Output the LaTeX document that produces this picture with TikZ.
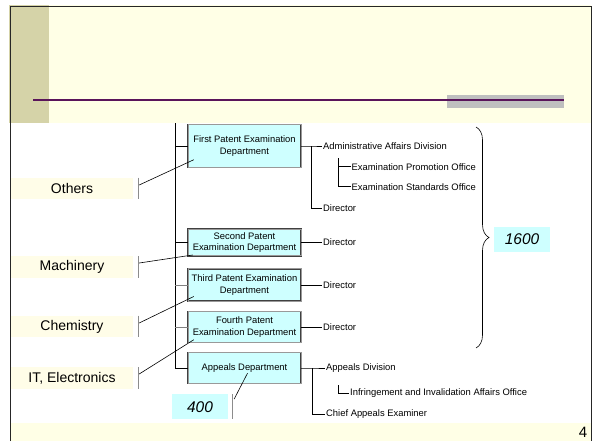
\documentclass[tikz,border=0pt]{standalone}
\usepackage{fontspec}
\setmainfont{Liberation Sans}
\usetikzlibrary{calc,decorations.pathreplacing}
\definecolor{headcream}{RGB}{255,255,230}
\definecolor{headolive}{RGB}{213,211,168}
\definecolor{labcream}{RGB}{255,253,232}
\definecolor{deptcyan}{RGB}{206,255,255}
\definecolor{rulepurple}{RGB}{90,20,90}
\newcommand\deptfont{\fontsize{9.4}{11.5}\selectfont}
\newcommand\fieldfont{\fontsize{14}{16}\selectfont}
\newcommand\countfont{\fontsize{15.5}{17}\selectfont\itshape}
\tikzset{
  dept/.style={draw=black!75, line width=0.45pt, double=black!40, double distance=0.8pt,
    fill=deptcyan, minimum width=113, inner sep=0pt, align=center, font=\deptfont},
  field/.style={fill=labcream, minimum width=122, minimum height=21.5, inner sep=0pt, font=\fieldfont},
  office/.style={anchor=west, inner xsep=1pt, inner ysep=1pt, font=\deptfont},
  count/.style={fill=deptcyan, minimum width=56, minimum height=25, inner sep=0pt, font=\countfont},
  tickbar/.style={draw=black!45, line width=1.3pt},
  link/.style={draw=black, line width=0.6pt},
}
\begin{document}
\begin{tikzpicture}[x=1pt,y=-1pt]
  \useasboundingbox (0,0) rectangle (593,441);
  %%%%% HEADER %%%%%
  \fill[white] (0,0) rectangle (593,441);
  \fill[headcream] (10,5) rectangle (591,122.7);
  \fill[headolive] (9,5) rectangle (49,122.7);
  \fill[black!25] (447,95) rectangle (564,107.7);
  \draw[rulepurple, line width=1.4pt] (33,100) -- (563.5,100);
  \fill[headcream] (10,422.7) rectangle (591,441);
  \draw[black!85, line width=0.8pt] (10,441) -- (10,6) -- (591,6) -- (591,441);

  %%%%% DEPARTMENTS %%%%%
  \coordinate (top) at (175,123);
  \node[dept, minimum height=43] (b1) at (244.5,146) {First Patent Examination\\Department};
  \node[dept, minimum height=26.5] (b2) at (244.5,242.5) {Second Patent\\Examination Department};
  \node[dept, minimum height=32.5] (b3) at (244.5,285) {Third Patent Examination\\Department};
  \node[dept, minimum height=31] (b4) at (244.5,327) {Fourth Patent\\Examination Department};
  \node[dept, minimum height=31] (b5) at (244.5,368) {Appeals Department};

  \draw[link] (top) |- (b5.west);
  \draw[link] (b1.west -| top) -- (b1.west);
  \draw[link] (b2.west -| top) -- (b2.west);
  \draw[link, draw=black!50] (b3.west -| top) -- (b3.west);
  \draw[link, draw=black!50] (b4.west -| top) -- (b4.west);

  %%%%% OFFICES %%%%%
  \node[office] (admin) at (322,146) {Administrative Affairs Division};
  \node[office] (promo) at (350.5,166.7) {Examination Promotion Office};
  \node[office] (stand) at (350.5,186.7) {Examination Standards Office};
  \node[office] (dir1) at (322,208.3) {Director};
  \node[office] (dir2) at (322,242.5) {Director};
  \node[office] (dir3) at (322,285) {Director};
  \node[office] (dir4) at (322,327) {Director};
  \node[office] (appdiv) at (325,368) {Appeals Division};
  \node[office] (infr) at (349,393.3) {Infringement and Invalidation Affairs Office};
  \node[office] (chief) at (325,414.3) {Chief Appeals Examiner};

  \draw[link] (b1.east) -- (b1.east -| 311.7,0) coordinate (j1) -- (admin.west);
  \draw[link] (j1) |- (dir1.west);
  \coordinate (s1) at (338.3,158);
  \draw[link] (s1) |- (promo.west);
  \draw[link] (s1) |- (stand.west);
  \draw[link] (b2.east) -- (dir2.west);
  \draw[link] (b3.east) -- (dir3.west);
  \draw[link] (b4.east) -- (dir4.west);
  \draw[link] (b5.east) -- (b5.east -| 312.7,0) coordinate (j5) -- (appdiv.west);
  \draw[link] (j5) |- (chief.west);
  \coordinate (s5) at (338.3,385);
  \draw[link] (s5) |- (infr.west);

  %%%%% FIELDS %%%%%
  \node[field] (oth) at (72,188.5) {Others};
  \node[field] (mach) at (72,267) {Machinery};
  \node[field] (chem) at (72,326.5) {Chemistry};
  \node[field] (itel) at (72,378) {IT, Electronics};

  \draw[tickbar] ([xshift=5]oth.north east) -- ([xshift=5]oth.south east);
  \draw[tickbar] ([xshift=5]mach.north east) -- ([xshift=5]mach.south east);
  \draw[tickbar] ([xshift=5]chem.north east) -- ([xshift=5]chem.south east);
  \draw[tickbar] ([xshift=5]itel.north east) -- ([xshift=5]itel.south east);

  \coordinate (oth-t) at ($(oth.east)+(6,-3.5)$);
  \coordinate (mach-t) at ($(mach.east)+(6,-4)$);
  \coordinate (chem-t) at ($(chem.east)+(6,-3.5)$);
  \coordinate (itel-t) at ($(itel.east)+(6,-4)$);
  \draw[link] (oth-t) -- ($(b1.south west)+(6,-8)$);
  \draw[link] (mach-t) -- ($(b2.south west)+(5,-1)$);
  \draw[link] (chem-t) -- ($(b3.south west)+(6,-5)$);
  \draw[link] (itel-t) -- ($(b4.south west)+(6,-3)$);

  %%%%% COUNTS %%%%%
  \node[count] (n400) at (200,406.7) {400};
  \draw[tickbar] ([xshift=4.5]n400.north east) -- ([xshift=4.5]n400.south east);
  \draw[link] ($(n400.north east)+(6,5)$) -- ($(b5.south)+(3,-10.5)$);

  \node[count] (n1600) at (522,239.5) {1600};
  \draw[link, decorate, decoration={brace, amplitude=13pt}] (476,127) -- (476,348);

  \node[font=\fontsize{15}{17}\selectfont] (page) at (583,432.5) {4};
\end{tikzpicture}
\end{document}
